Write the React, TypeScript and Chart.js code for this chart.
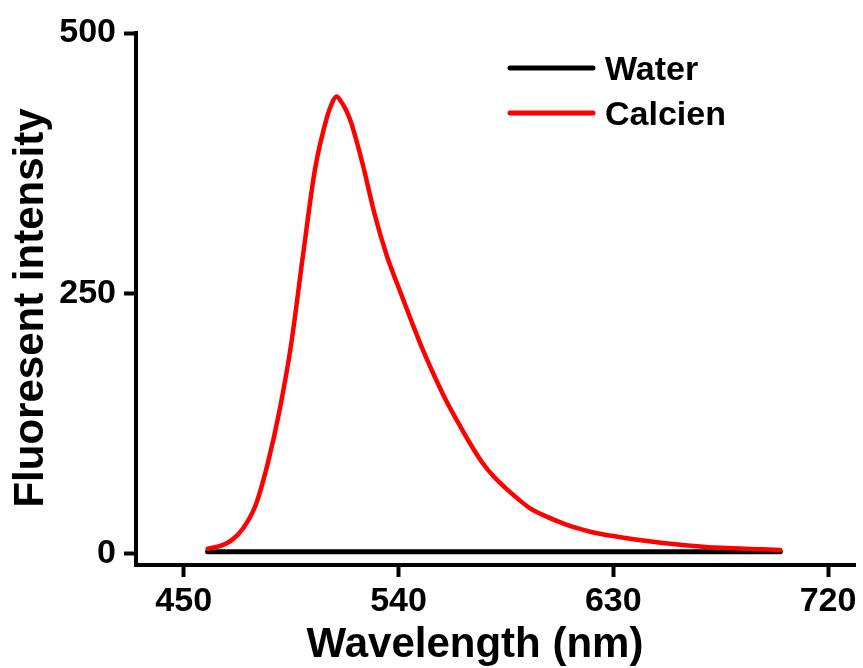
import React, { useEffect, useRef } from 'react';
import { Chart, registerables } from 'chart.js';

Chart.register(...registerables);

const FONT = '"Liberation Sans", Arial, Helvetica, sans-serif';

const xTitle = 'Wavelength (nm)';
const yTitle = 'Fluoresent intensity';

const xTicks = [450, 540, 630, 720];
const yTicks = [0, 250, 500];

const waterLabel = 'Water';
const waterWavelengths = [460, 480, 500, 520, 540, 560, 580, 600, 620, 640, 660, 680, 700];
const waterValues = [2, 2, 2, 2, 2, 2, 2, 2, 2, 2, 2, 2, 2];

const calceinLabel = 'Calcien';
const calceinWavelengths = [
  460, 465, 470, 475, 480, 485, 490, 495, 500, 505, 510,
  512, 514, 516, 518,
  520, 525, 530, 535, 540, 545, 550, 555, 560, 565, 570, 575, 580, 585, 590, 595, 600,
  605, 610, 615, 620, 625, 630, 635, 640, 645, 650, 655, 660, 665, 670, 675, 680, 685,
  690, 695, 700,
];
const calceinValues = [
  5, 7.5, 13, 25, 46, 85, 136, 201, 287, 369, 419,
  432, 439, 434, 426,
  415, 374, 326, 287, 256, 226, 197, 171, 147, 126, 106, 88, 74, 63, 53, 44, 38,
  33, 28.5, 24.7, 21.6, 19.2, 17.2, 15.4, 13.7, 12.2, 10.8, 9.5, 8.3, 7.3, 6.5, 5.9, 5.4, 5,
  4.6, 4.2, 3.8,
];

const decorPlugin = {
  id: 'decor',
  afterDraw(chart: any) {
    const { ctx, chartArea } = chart;
    ctx.save();
    ctx.fillStyle = '#000';
    ctx.textBaseline = 'alphabetic';
    // x title
    ctx.font = `bold 42px ${FONT}`;
    ctx.textAlign = 'center';
    ctx.fillText(xTitle, chartArea.left + 339, chartArea.bottom + 92);
    // y title
    ctx.save();
    ctx.translate(chartArea.left - 93, (chartArea.top + chartArea.bottom) / 2 + 9);
    ctx.rotate(-Math.PI / 2);
    ctx.fillText(yTitle, 0, 0);
    ctx.restore();
    // legend
    ctx.font = `bold 34px ${FONT}`;
    ctx.textAlign = 'left';
    chart.data.datasets.forEach((ds: any, i: number) => {
      const y = chartArea.top + 35 + i * 45;
      ctx.beginPath();
      ctx.strokeStyle = ds.borderColor;
      ctx.lineWidth = 5;
      ctx.lineCap = 'round';
      ctx.moveTo(chartArea.left + 374, y);
      ctx.lineTo(chartArea.left + 457, y);
      ctx.stroke();
      ctx.fillStyle = '#000';
      ctx.fillText(ds.label, chartArea.left + 469, y + 12);
    });
    ctx.restore();
  },
};

export default function App() {
  const canvasRef = useRef<HTMLCanvasElement | null>(null);

  useEffect(() => {
    document.body.style.margin = '0';
    const canvas = canvasRef.current;
    if (!canvas) return;
    const chart = new Chart(canvas, {
      type: 'line',
      data: {
        datasets: [
          {
            label: waterLabel,
            data: waterWavelengths.map((x, i) => ({ x, y: waterValues[i] })),
            borderColor: '#000000',
            borderWidth: 5,
            pointRadius: 0,
            borderCapStyle: 'round',
            borderJoinStyle: 'round',
            order: 2,
          },
          {
            label: calceinLabel,
            data: calceinWavelengths.map((x, i) => ({ x, y: calceinValues[i] })),
            borderColor: '#ff0000',
            borderWidth: 4.5,
            pointRadius: 0,
            cubicInterpolationMode: 'monotone',
            borderCapStyle: 'round',
            borderJoinStyle: 'round',
            order: 1,
          },
        ],
      },
      options: {
        animation: false,
        responsive: true,
        maintainAspectRatio: false,
        events: [],
        layout: { padding: { top: 33, right: 8, left: 0, bottom: 0 } },
        plugins: {
          legend: { display: false },
          tooltip: { enabled: false },
          title: { display: false },
        },
        scales: {
          x: {
            type: 'linear',
            min: 430,
            max: 731.3,
            afterBuildTicks: (scale: any) => {
              scale.ticks = xTicks.map((v) => ({ value: v }));
            },
            afterFit: (scale: any) => {
              scale.height = 103;
            },
            grid: {
              display: true,
              drawOnChartArea: false,
              drawTicks: true,
              tickLength: 12,
              tickWidth: 4,
              tickColor: '#000',
              color: '#000',
            },
            border: { display: true, color: '#000', width: 4 },
            ticks: {
              color: '#000',
              font: { family: FONT, size: 34, weight: 'bold' },
              padding: 4,
              maxRotation: 0,
            },
          },
          y: {
            type: 'linear',
            min: -10.6,
            max: 500,
            afterBuildTicks: (scale: any) => {
              scale.ticks = yTicks.map((v) => ({ value: v }));
            },
            afterFit: (scale: any) => {
              scale.width = 136;
            },
            grid: {
              display: true,
              drawOnChartArea: false,
              drawTicks: true,
              tickLength: 12,
              tickWidth: 4,
              tickColor: '#000',
              color: '#000',
            },
            border: { display: true, color: '#000', width: 4 },
            ticks: {
              color: '#000',
              font: { family: FONT, size: 34, weight: 'bold' },
              padding: 8,
            },
          },
        },
      },
      plugins: [decorPlugin],
    } as any);
    return () => chart.destroy();
  }, []);

  return (
    <div style={{ position: 'relative', width: 863, height: 668 }}>
      <canvas ref={canvasRef} />
    </div>
  );
}
